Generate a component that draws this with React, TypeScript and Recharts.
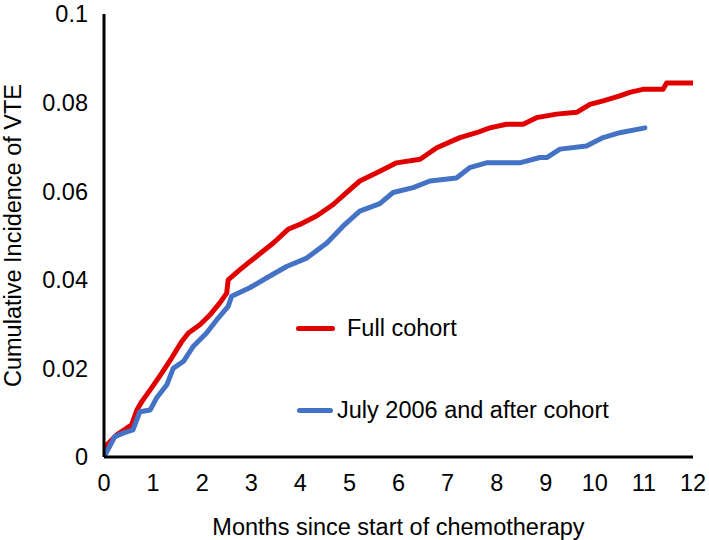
import React from "react";
import { LineChart, Line, XAxis, YAxis, Label } from "recharts";

// Full cohort (red) — months since start, cumulative incidence
const fullMonths = [0, 0.02, 0.26, 0.46, 0.56, 0.67, 0.77, 0.97, 1.18, 1.38, 1.58, 1.72, 1.96, 2.16, 2.36, 2.5, 2.53, 2.77, 3.11, 3.45, 3.75, 3.99, 4.33, 4.67, 4.94, 5.21, 5.62, 5.96, 6.44, 6.78, 7.25, 7.59, 7.86, 8.2, 8.54, 8.81, 9.22, 9.63, 9.9, 10.17, 10.51, 10.71, 10.98, 11.39, 11.46, 12];
const fullValues = [0.001, 0.0023, 0.005, 0.0065, 0.0072, 0.0106, 0.0125, 0.0156, 0.019, 0.0224, 0.026, 0.028, 0.0299, 0.0321, 0.0348, 0.037, 0.04, 0.0423, 0.0453, 0.0483, 0.0514, 0.0525, 0.0544, 0.057, 0.0597, 0.0623, 0.0645, 0.0664, 0.0672, 0.0698, 0.0721, 0.0732, 0.0743, 0.0751, 0.0751, 0.0766, 0.0774, 0.0778, 0.0796, 0.0804, 0.0815, 0.0823, 0.083, 0.083, 0.0844, 0.0844];

// July 2006 and after cohort (blue)
const recentMonths = [0, 0.22, 0.39, 0.59, 0.73, 0.94, 1.07, 1.28, 1.41, 1.62, 1.82, 2.09, 2.3, 2.53, 2.6, 2.97, 3.31, 3.72, 4.13, 4.54, 4.87, 5.21, 5.62, 5.89, 6.3, 6.64, 7.18, 7.45, 7.79, 8.47, 8.88, 9.02, 9.29, 9.83, 10.17, 10.51, 11.02];
const recentValues = [0, 0.0046, 0.0054, 0.0061, 0.0102, 0.0106, 0.0133, 0.0163, 0.02, 0.0216, 0.025, 0.028, 0.031, 0.034, 0.0363, 0.0382, 0.0404, 0.043, 0.0449, 0.0483, 0.0521, 0.0555, 0.0572, 0.0597, 0.0608, 0.0623, 0.063, 0.0653, 0.0664, 0.0664, 0.0676, 0.0676, 0.0695, 0.0702, 0.0721, 0.0732, 0.0743];

const seriesNames = ["Full cohort", "July 2006 and after cohort"];
const xTicks = [0, 1, 2, 3, 4, 5, 6, 7, 8, 9, 10, 11, 12];
const yTicks = [0, 0.02, 0.04, 0.06, 0.08, 0.1];
const xTitle = "Months since start of chemotherapy";
const yTitle = "Cumulative Incidence of VTE";

const RED = "#e00000";
const BLUE = "#4472c4";
const FONT = "'Liberation Sans', Arial, Helvetica, sans-serif";
const FS = 23.5;

const fullData = fullMonths.map((m, i) => ({ m, v: fullValues[i] }));
const recentData = recentMonths.map((m, i) => ({ m, v: recentValues[i] }));

const tickStyle = { fill: "#000", fontSize: FS, fontFamily: FONT };

export default function App() {
  return (
    <div style={{ position: "absolute", left: 0, top: 0, width: 709, height: 540, background: "#fff", fontFamily: FONT }}>
      <LineChart width={709} height={540} margin={{ top: 14, right: 16, left: 0, bottom: 0 }}>
        <XAxis
          type="number"
          dataKey="m"
          domain={[0, 12]}
          ticks={xTicks}
          interval={0}
          tickLine={false}
          axisLine={{ stroke: "#000", strokeWidth: 3 }}
          tick={tickStyle}
          tickMargin={11}
          height={83}
          allowDataOverflow
        >
          <Label
            content={(props: any) => {
              const vb = props.viewBox;
              return (
                <text x={vb.x + vb.width / 2} y={527} textAnchor="middle" dominantBaseline="central" fontSize={FS} fontFamily={FONT} fill="#000">
                  {xTitle}
                </text>
              );
            }}
          />
        </XAxis>
        <YAxis
          type="number"
          domain={[0, 0.1]}
          ticks={yTicks}
          interval={0}
          tickLine={false}
          axisLine={{ stroke: "#000", strokeWidth: 3 }}
          tick={tickStyle}
          tickMargin={10}
          width={104}
          allowDataOverflow
        >
          <Label
            content={(props: any) => {
              const vb = props.viewBox;
              const cy = vb.y + vb.height / 2;
              return (
                <text x={13} y={cy} transform={`rotate(-90, 13, ${cy})`} textAnchor="middle" dominantBaseline="central" fontSize={FS} fontFamily={FONT} fill="#000">
                  {yTitle}
                </text>
              );
            }}
          />
        </YAxis>
        <Line data={fullData} dataKey="v" name={seriesNames[0]} type="linear" stroke={RED} strokeWidth={5} strokeLinejoin="round" strokeLinecap="round" dot={false} activeDot={false} isAnimationActive={false} />
        <Line data={recentData} dataKey="v" name={seriesNames[1]} type="linear" stroke={BLUE} strokeWidth={5} strokeLinejoin="round" strokeLinecap="round" dot={false} activeDot={false} isAnimationActive={false} />
      </LineChart>
      <div style={{ position: "absolute", left: 296, top: 316, display: "flex", alignItems: "center", height: 24 }}>
        <div style={{ width: 39, height: 5, background: RED, borderRadius: 3 }} />
        <span style={{ marginLeft: 12, fontSize: FS, color: "#000", whiteSpace: "nowrap" }}>{seriesNames[0]}</span>
      </div>
      <div style={{ position: "absolute", left: 297, top: 398, display: "flex", alignItems: "center", height: 24 }}>
        <div style={{ width: 36, height: 5, background: BLUE, borderRadius: 3 }} />
        <span style={{ marginLeft: 4, fontSize: FS, color: "#000", whiteSpace: "nowrap" }}>{seriesNames[1]}</span>
      </div>
    </div>
  );
}
